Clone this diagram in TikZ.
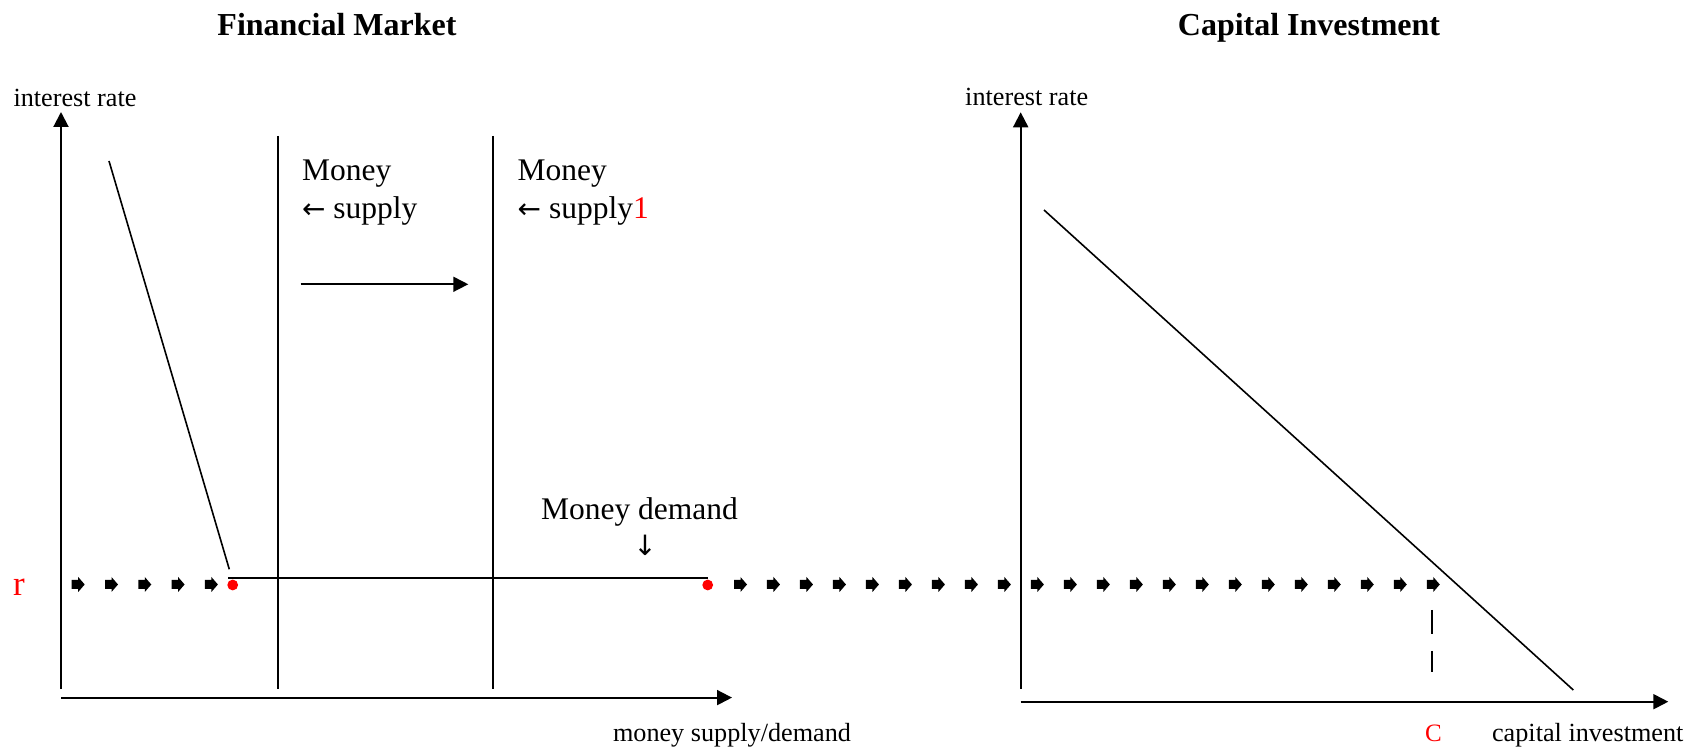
\documentclass[tikz,border=0pt]{standalone}
\usepackage{fontspec}
\setmainfont{Liberation Serif}
\newfontfamily\arrowfont{DejaVu Sans}
\usetikzlibrary{arrows.meta}
\begin{document}
\begin{tikzpicture}[x=0.5pt,y=-0.5pt,
  axis/.style={line width=1pt,-{Triangle[length=7.5pt,width=7.5pt]}},
  curve/.style={line width=0.8pt},
  supplyline/.style={line width=1pt},
  shiftarrow/.style={line width=0.8pt,-{Triangle[length=7.5pt,width=7.5pt]}},
  lbl/.style={inner sep=0pt,font=\fontsize{13.1}{16}\selectfont},
  redlbl/.style={inner sep=0pt,text=red},
  title/.style={inner sep=0pt,font=\fontsize{16}{19}\selectfont\bfseries},
  moneylbl/.style={inner sep=0pt,font=\fontsize{15.75}{19.15}\selectfont},
  reddot/.style={circle,fill=red,inner sep=0pt,minimum size=5.4pt},
  blk/.pic={\fill (0,-4.5) -- (6.5,-4.5) -- (6.5,-7.5) -- (13,0) -- (6.5,7.5) -- (6.5,4.5) -- (0,4.5) -- cycle;}
]
\useasboundingbox (0,0) rectangle (1688,747);

% titles
\node[title,anchor=base] (t1) at (337,36) {Financial Market};
\node[title,anchor=base] (t2) at (1309,36) {Capital Investment};

% left axes
\coordinate (lo1) at (61,689);
\coordinate (ly1) at (61,112);
\coordinate (lx0) at (61,697.6);
\coordinate (lx1) at (732,697.6);
\draw[axis] (lo1) -- (ly1);
\draw[axis] (lx0) -- (lx1);
\node[lbl,anchor=base] (yl1) at (75,106.5) {interest rate};
\node[lbl,anchor=base] (xl1) at (732,741.7) {money supply/demand};
\node[redlbl,anchor=base,font=\fontsize{17.5}{20}\selectfont] (r) at (19,596) {r};

% right axes
\coordinate (ro1) at (1020.7,689);
\coordinate (ry1) at (1020.7,112.3);
\coordinate (rx0) at (1020.7,701.7);
\coordinate (rx1) at (1668.3,701.7);
\draw[axis] (ro1) -- (ry1);
\draw[axis] (rx0) -- (rx1);
\node[lbl,anchor=base] (yl2) at (1026.7,106) {interest rate};
\node[lbl,anchor=base west] (xl2) at (1491.7,741.7) {capital investment};
\node[redlbl,anchor=base,font=\fontsize{12.5}{15}\selectfont] (C) at (1433.5,741.7) {C};

% money supply lines
\coordinate (s1t) at (277.7,136);
\coordinate (s1b) at (277.7,689);
\coordinate (s2t) at (492.7,136);
\coordinate (s2b) at (492.7,689);
\draw[supplyline] (s1t) -- (s1b);
\draw[supplyline] (s2t) -- (s2b);
\node[moneylbl,anchor=base west] (m1a) at (301.7,180.7) {Money};
\node[moneylbl,anchor=base west] (m1b) at (301.7,219) {{\arrowfont\fontsize{14}{16}\selectfont ←} supply};
\node[moneylbl,anchor=base west] (m2a) at (517.3,180.7) {Money};
\node[moneylbl,anchor=base west] (m2b) at (517.3,219) {{\arrowfont\fontsize{14}{16}\selectfont ←} supply\textcolor{red}{1}};
\coordinate (sh0) at (300.7,284.3);
\coordinate (sh1) at (468.3,284.3);
\draw[shiftarrow] (sh0) -- (sh1);

% money demand
\coordinate (d0) at (109,161);
\coordinate (d1) at (229.3,569.3);
\coordinate (d2) at (228.3,578.3);
\coordinate (d3) at (708,578.3);
\draw[curve] (d0) -- (d1);
\draw[line width=1pt] (d2) -- (d3);
\node[moneylbl,anchor=base] (md) at (639.5,520) {Money demand};
\node[moneylbl,anchor=base,font=\arrowfont\fontsize{14}{16}\selectfont] (mdarrow) at (645,556) {↓};
\node[reddot] (e1) at (232.7,585) {};
\node[reddot] (e2) at (707.7,585) {};

% investment line
\coordinate (i0) at (1044,210);
\coordinate (i1) at (1573.3,690);
\draw[curve] (i0) -- (i1);
\coordinate (c0) at (1431.7,610);
\coordinate (c1) at (1431.7,672);
\draw[line width=1pt,dash pattern=on 12pt off 8.5pt] (c0) -- (c1);

% dotted arrow rows
\foreach \k in {0,...,4} { \pic at ({71.7+33.3*\k},584.5) {blk}; }
\foreach \k in {0,...,21} { \pic at ({734+32.99*\k},584.5) {blk}; }
\end{tikzpicture}
\end{document}
